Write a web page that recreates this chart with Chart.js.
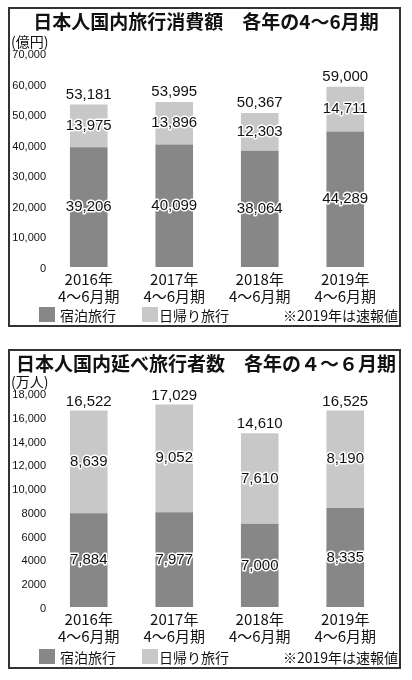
<!DOCTYPE html>
<html lang="ja">
<head>
<meta charset="utf-8">
<script src="https://cdn.jsdelivr.net/npm/chart.js@4/dist/chart.umd.min.js"></script>
<style>
  html, body { margin: 0; padding: 0; background: #fff; }
  body { width: 412px; height: 680px; position: relative; overflow: hidden;
         font-family: 'Noto Sans CJK JP', 'Noto Sans', sans-serif; color: #111; }
  .box { position: absolute; left: 8px; width: 393px; height: 320px;
         border: 2px solid #333; box-sizing: border-box; }
  #box1 { top: 7px; }
  #box2 { top: 349px; }
  .chart { position: absolute; left: 0; width: 412px; height: 340px; }
  #c1 { top: 0; }
  #c2 { top: 340px; }
  .title { position: absolute; left: 0; width: 412px; text-align: center;
           font-size: 19px; font-weight: bold; line-height: 1; white-space: pre; }
  .unit { position: absolute; left: 11px; font-size: 14px; line-height: 1; white-space: pre; }
  .legend { position: absolute; left: 39px; width: 359px; height: 16px;
            font-size: 14px; line-height: 16px; }
  .legend .sw { position: absolute; top: 0; width: 16px; height: 15px; }
  .legend .lb { position: absolute; top: 0; }
  .legend .note { position: absolute; right: 0; top: 0; }
</style>
</head>
<body>
<div class="box" id="box1"></div>
<div class="box" id="box2"></div>

<canvas id="c1" class="chart" width="412" height="340"></canvas>
<canvas id="c2" class="chart" width="412" height="340"></canvas>

<div class="title" style="top:11px;">日本人国内旅行消費額　各年の4〜6月期</div>
<div class="unit" style="top:34px;">(億円)</div>
<div class="legend" style="top:307px;">
  <span class="sw" style="left:0;background:#878787;"></span><span class="lb" style="left:21px;">宿泊旅行</span>
  <span class="sw" style="left:103px;background:#c8c8c8;"></span><span class="lb" style="left:120px;">日帰り旅行</span>
  <span class="note">※2019年は速報値</span>
</div>

<div class="title" style="top:353px;">日本人国内延べ旅行者数　各年の４〜６月期</div>
<div class="unit" style="top:374px;">(万人)</div>
<div class="legend" style="top:649px;">
  <span class="sw" style="left:0;background:#878787;"></span><span class="lb" style="left:21px;">宿泊旅行</span>
  <span class="sw" style="left:103px;background:#c8c8c8;"></span><span class="lb" style="left:120px;">日帰り旅行</span>
  <span class="note">※2019年は速報値</span>
</div>

<script>
const YEARS = [
  ['2016年', '4〜6月期'],
  ['2017年', '4〜6月期'],
  ['2018年', '4〜6月期'],
  ['2019年', '4〜6月期'],
];

// 消費額（億円）
const SPEND_STAY = [39206, 40099, 38064, 44289];
const SPEND_DAY = [13975, 13896, 12303, 14711];
const SPEND_TOTAL = [53181, 53995, 50367, 59000];

// 延べ旅行者数（万人）
const TRIPS_STAY = [7884, 7977, 7000, 8335];
const TRIPS_DAY = [8639, 9052, 7610, 8190];
const TRIPS_TOTAL = [16522, 17029, 14610, 16525];

const DARK = '#878787';
const LIGHT = '#c8c8c8';
const LABEL_FONT = '15px "Liberation Sans", Arial, sans-serif';

function fmt(v) {
  return v.toLocaleString('en-US');
}

function haloText(ctx, text, x, y) {
  ctx.lineJoin = 'round';
  ctx.lineWidth = 3;
  ctx.strokeStyle = '#fff';
  ctx.strokeText(text, x, y);
  ctx.fillStyle = '#111';
  ctx.fillText(text, x, y);
}

// draws segment values in the middle and the totals on top of each stack
const valueLabels = {
  id: 'valueLabels',
  afterDatasetsDraw(chart, args, opts) {
    const ctx = chart.ctx;
    ctx.save();
    ctx.font = LABEL_FONT;
    ctx.textAlign = 'center';
    ctx.textBaseline = 'middle';
    chart.data.datasets.forEach((ds, di) => {
      const meta = chart.getDatasetMeta(di);
      meta.data.forEach((bar, i) => {
        const mid = (bar.y + bar.base) / 2;
        haloText(ctx, fmt(ds.data[i]), bar.x, mid);
      });
    });
    const topMeta = chart.getDatasetMeta(chart.data.datasets.length - 1);
    topMeta.data.forEach((bar, i) => {
      haloText(ctx, fmt(opts.totals[i]), bar.x, bar.y - opts.gap);
    });
    ctx.restore();
  },
};

function makeChart(id, stay, day, totals, max, step, gap) {
  const ctx = document.getElementById(id).getContext('2d');
  return new Chart(ctx, {
    type: 'bar',
    data: {
      labels: YEARS,
      datasets: [
        { label: '宿泊旅行', data: stay, backgroundColor: DARK, borderWidth: 0 },
        { label: '日帰り旅行', data: day, backgroundColor: LIGHT, borderWidth: 0 },
      ],
    },
    options: {
      responsive: false,
      animation: false,
      devicePixelRatio: 1,
      barPercentage: 0.44,
      categoryPercentage: 1,
      layout: { padding: { top: 53, right: 24, bottom: 33, left: 0 } },
      plugins: {
        legend: { display: false },
        tooltip: { enabled: false },
        valueLabels: { totals, gap },
      },
      scales: {
        x: {
          stacked: true,
          grid: { display: false, drawTicks: false },
          border: { display: false },
          afterFit(scale) { scale.height = 40; },
          ticks: {
            color: '#111',
            padding: 4,
            maxRotation: 0,
            autoSkip: false,
            font: { family: '"Noto Sans CJK JP", sans-serif', size: 15, lineHeight: 1.13 },
          },
        },
        y: {
          stacked: true,
          min: 0,
          max,
          grid: { display: false, drawTicks: false },
          border: { display: false },
          afterFit(scale) { scale.width = 46; },
          ticks: {
            stepSize: step,
            color: '#111',
            padding: 0,
            labelOffset: 2,
            font: { family: '"Liberation Sans", Arial, sans-serif', size: 11 },
            callback: v => (v >= 10000 ? fmt(v) : String(v)),
          },
        },
      },
    },
    plugins: [valueLabels],
  });
}

makeChart('c1', SPEND_STAY, SPEND_DAY, SPEND_TOTAL, 70000, 10000, 10);
makeChart('c2', TRIPS_STAY, TRIPS_DAY, TRIPS_TOTAL, 18000, 2000, 9);
</script>
</body>
</html>
